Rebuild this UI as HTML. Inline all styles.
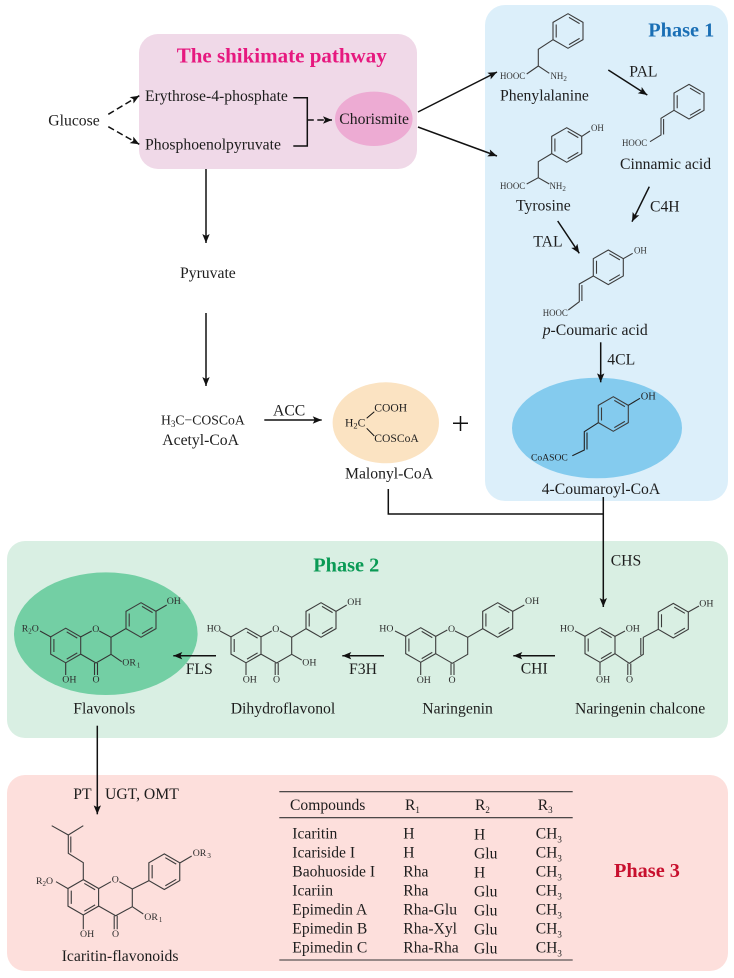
<!DOCTYPE html>
<html><head><meta charset="utf-8"><style>
html,body{margin:0;padding:0;background:#fff}
svg{display:block}
text{font-family:"Liberation Serif",serif;fill:#1d1d1d}
.l{font-size:15.7px}
.s{font-size:9.8px;fill:#2c2c2c}
.h{font-size:8.9px;fill:#333}
.m{font-size:11.6px}
.t{font-size:20.3px;font-weight:bold}
.b{fill:none;stroke:#3c3c3c;stroke-width:1.1}
.a{fill:none;stroke:#111;stroke-width:1.5}
.d{fill:none;stroke:#111;stroke-width:1.5;stroke-dasharray:6.5 3.5}
</style></head><body>
<svg width="734" height="978" viewBox="0 0 734 978" xmlns="http://www.w3.org/2000/svg">
<defs>
<marker id="a" markerUnits="userSpaceOnUse" markerWidth="10" markerHeight="8" refX="9" refY="4" orient="auto"><path d="M0,0.3 L9,4 L0,7.7 L2,4Z" fill="#111"/></marker>
<g id="r"><path class="b" d="M0,-17.3 L15,-8.65 L15,8.65 L0,17.3 L-15,8.65 L-15,-8.65Z"/><path class="b" d="M1,-13.6 L11.6,-7.4 M11.6,7.4 L1,13.6 M-11.8,-6.5 L-11.8,6.5"/></g>
</defs>
<rect width="734" height="978" fill="#fff"/>
<rect x="485" y="5" width="243" height="496" rx="20" fill="#dceffa"/>
<rect x="139" y="34" width="278" height="135" rx="19" fill="#f0d9e8"/>
<rect x="7" y="541" width="721" height="197" rx="18" fill="#d9efe3"/>
<rect x="7" y="775" width="721" height="196" rx="18" fill="#fddfdc"/>
<ellipse cx="373.8" cy="118.8" rx="38.8" ry="27.2" fill="#edabd3"/>
<ellipse cx="597" cy="428" rx="85" ry="50.3" fill="#84cbee"/>
<ellipse cx="385.8" cy="422.8" rx="53.2" ry="40.5" fill="#fbe3c2"/>
<ellipse cx="105.8" cy="633.7" rx="91.8" ry="61.3" fill="#73cfa4"/>

<text class="t" x="176.7" y="62.3" style="fill:#e6197f;font-size:21px">The shikimate pathway</text>
<text class="t" x="648.3" y="36.7" style="fill:#1a6fb5">Phase 1</text>
<text class="t" x="313.3" y="571.7" style="fill:#0a9a55">Phase 2</text>
<text class="t" x="614" y="877" style="fill:#c8102e">Phase 3</text>

<text class="l" x="48.3" y="125.7">Glucose</text>
<text class="l" x="145" y="101">Erythrose-4-phosphate</text>
<text class="l" x="145" y="149.3">Phosphoenolpyruvate</text>
<text class="l" x="339.3" y="124">Chorismite</text>
<path class="d" marker-end="url(#a)" d="M108.3,114.3 L139.3,95.7"/>
<path class="d" marker-end="url(#a)" d="M108.3,126.7 L139.3,144.3"/>
<path class="a" d="M293.3,97.7 H307.3 V146 H293.3"/>
<path class="d" marker-end="url(#a)" d="M307.3,120 H332"/>
<path class="a" marker-end="url(#a)" d="M418,112 L497,72"/>
<path class="a" marker-end="url(#a)" d="M418,127 L497,156"/>
<path class="a" marker-end="url(#a)" d="M206,169 V243"/>
<text class="l" x="180" y="278">Pyruvate</text>
<path class="a" marker-end="url(#a)" d="M206,313 V386"/>
<text x="161" y="424.5" style="font-size:13.7px">H<tspan dy="2.5" style="font-size:9px">3</tspan><tspan dy="-2.5">C−COSCoA</tspan></text>
<text class="l" x="162.3" y="445">Acetyl-CoA</text>
<text class="l" x="273" y="415.3">ACC</text>
<path class="a" marker-end="url(#a)" d="M264.3,420 H321.7"/>
<text class="m" x="374.3" y="411.7">COOH</text>
<text class="m" x="345" y="426.7">H<tspan dy="2" style="font-size:8.5px">2</tspan><tspan dy="-2">C</tspan></text>
<text class="m" x="374.3" y="442">COSCoA</text>
<path class="a" style="stroke-width:1" d="M366.7,418.3 L374.3,411.7 M366.7,428.3 L374.3,436"/>
<text class="l" x="345" y="478.3">Malonyl-CoA</text>
<path d="M453,423.3 H468 M460.5,416 V431" stroke="#111" stroke-width="1.5" fill="none"/>
<path class="a" d="M388.3,489 V514 H603.3"/>

<!-- Phenylalanine -->
<use href="#r" x="568" y="31"/>
<path class="b" d="M553,39.7 L538.3,49.3 V66 L549.3,73.3 M538.3,66 L526.7,74"/>
<text class="h" x="500" y="79">HOOC</text>
<text class="h" x="550.5" y="79">NH<tspan dy="2" style="font-size:7px">2</tspan></text>
<text class="l" x="500" y="100.7">Phenylalanine</text>
<text class="l" x="629.3" y="76.7">PAL</text>
<path class="a" marker-end="url(#a)" d="M608.3,70 L647.3,95"/>
<!-- Cinnamic -->
<use href="#r" x="689" y="101.7"/>
<path class="b" d="M674,110.3 L661,118.3 V135 L650,141.7 M663.6,119 V134.5"/>
<text class="h" x="622" y="146">HOOC</text>
<text class="l" x="620" y="169">Cinnamic acid</text>
<text class="l" x="650" y="211.7">C4H</text>
<path class="a" marker-end="url(#a)" d="M649.3,186.7 L632,221.7"/>
<!-- Tyrosine -->
<use href="#r" x="566.7" y="145"/>
<path class="b" d="M581.7,136.4 L590,131 M551.7,153.6 L538.3,161.7 V177.7 L549.3,184 M538.3,177.7 L526.7,184"/>
<text class="h" x="591" y="131">OH</text>
<text class="h" x="500" y="189">HOOC</text>
<text class="h" x="549.5" y="189">NH<tspan dy="2" style="font-size:7px">2</tspan></text>
<text class="l" x="516" y="210.7">Tyrosine</text>
<text class="l" x="533.3" y="246.7">TAL</text>
<path class="a" marker-end="url(#a)" d="M557.7,221 L579.3,253.3"/>
<!-- Coumaric -->
<use href="#r" x="608.3" y="267.3"/>
<path class="b" d="M623.3,258.7 L632.7,253.3 M593.3,276 L579.3,284 V301.7 L568.3,310 M581.9,285 V301"/>
<text class="h" x="634" y="253.5">OH</text>
<text class="h" x="542.7" y="316">HOOC</text>
<text class="l" x="542.7" y="335"><tspan font-style="italic">p</tspan>-Coumaric acid</text>
<text class="l" x="607.3" y="364.3">4CL</text>
<path class="a" marker-end="url(#a)" d="M600.7,342.3 V382.3"/>
<!-- Coumaroyl -->
<use href="#r" x="613.3" y="414"/>
<path class="b" style="stroke:#222" d="M628.3,405.3 L640,398.3 M598.3,422.7 L584.3,431.7 V450 L572.3,455.7 M587,432.5 V449.5"/>
<text class="s" x="640.7" y="399.5" style="font-size:10.4px;fill:#222">OH</text>
<text x="531" y="460.7" style="font-size:9.6px">CoASOC</text>
<text class="l" x="541.7" y="494">4-Coumaroyl-CoA</text>

<path class="a" marker-end="url(#a)" d="M603.3,497 V607"/>
<text class="l" x="610.7" y="565.3">CHS</text>

<!-- Chalcone -->
<use href="#r" x="600" y="645"/>
<use href="#r" x="673.3" y="620.7"/>
<path class="b" d="M585,636.4 L575,631 M615,636.4 L625,631 M600,662.3 V675 M615,653.7 L629.3,663.3 L643.3,654.3 V637.3 L658.3,629.3 M640.8,655 V638 M627.8,663.5 V675 M630.8,663.5 V675 M688.3,612 L699,606"/>
<text class="s" x="560" y="631.5">HO</text>
<text class="s" x="625.7" y="631.5">OH</text>
<text class="s" x="596" y="682.3">OH</text>
<text class="s" x="626" y="682.3">O</text>
<text class="s" x="699.3" y="606.5">OH</text>
<text class="l" x="575" y="713.3">Naringenin chalcone</text>
<path class="a" marker-end="url(#a)" d="M555,655.7 H513.3"/>
<text class="l" x="520.7" y="673.3">CHI</text>

<!-- Naringenin -->
<use href="#r" x="420.7" y="645"/>
<use href="#r" x="497.7" y="620"/>
<path class="b" d="M405.7,636.4 L395,631 M435.7,636.4 L447.3,630 M455,631 L467.7,637.3 V654.3 L452.3,663.3 L435.7,653.7 M451,663.3 V675 M454,663.3 V675 M420.7,662.3 V675 M467.7,637.3 L482.7,628.7 M512.7,611.4 L524.3,605"/>
<text class="s" x="379.3" y="631.5">HO</text>
<text class="s" x="448" y="632">O</text>
<text class="s" x="448.5" y="683">O</text>
<text class="s" x="416.7" y="683">OH</text>
<text class="s" x="525" y="604">OH</text>
<text class="l" x="422.3" y="713.3">Naringenin</text>
<path class="a" marker-end="url(#a)" d="M384,655.7 H342.3"/>
<text class="l" x="349" y="674">F3H</text>

<!-- Dihydroflavonol -->
<use href="#r" x="246" y="645.5"/>
<use href="#r" x="321" y="620"/>
<path class="b" d="M231,636.9 L220,631 M261,636.9 L271.7,631 M280,631 L291.7,637.3 V654.3 L276.7,663 L261,654.1 M275.2,663 V675 M278.2,663 V675 M246,662.8 V675 M291.7,654.3 L301.7,660 M291.7,637.3 L306,628.7 M336,611.4 L346.7,605"/>
<text class="s" x="206.7" y="631.5">HO</text>
<text class="s" x="272.2" y="632">O</text>
<text class="s" x="273" y="682.5">O</text>
<text class="s" x="242.7" y="682.3">OH</text>
<text class="s" x="302.3" y="665.7">OH</text>
<text class="s" x="347.3" y="605">OH</text>
<text class="l" x="230.7" y="713.3">Dihydroflavonol</text>
<path class="a" marker-end="url(#a)" d="M216,655.7 H173.3"/>
<text class="l" x="185.7" y="674">FLS</text>

<!-- Flavonols -->
<use href="#r" x="65.7" y="645.5"/>
<use href="#r" x="141" y="620"/>
<path class="b" style="stroke:#333" d="M50.7,636.9 L40,631 M80.7,636.9 L91.7,631 M99.3,631 L111,637.3 V654.3 L96,663 L80.7,654.1 M94.5,663 V675 M97.5,663 V675 M65.7,662.8 V675 M111,654.3 L121.7,661.7 M111,637.3 L125.7,628.7 M155.7,611.4 L166.7,605"/>
<text class="s" x="21.7" y="631.7">R<tspan dy="2" style="font-size:7px">2</tspan><tspan dy="-2">O</tspan></text>
<text class="s" x="92.2" y="632">O</text>
<text class="s" x="92.5" y="682.5">O</text>
<text class="s" x="62.3" y="682.3">OH</text>
<text class="s" x="122.3" y="665.7">OR<tspan dx="1" dy="2" style="font-size:7px">1</tspan></text>
<text class="s" x="166.7" y="604">OH</text>
<text class="l" x="73.3" y="713.3">Flavonols</text>

<path class="a" marker-end="url(#a)" d="M97.3,725.7 V814.3"/>
<text class="l" x="73.3" y="799">PT</text>
<text class="l" x="105" y="799">UGT, OMT</text>

<!-- Icaritin -->
<use href="#r" transform="translate(83.3,897.3) scale(1.02)"/>
<use href="#r" transform="translate(164.3,871.7) scale(1.03)"/>
<path class="b" d="M83.3,880 V862.7 L68.3,853.3 V835 L51.7,825.7 M68.3,835 L83.3,825.7 M70.8,852.5 V836.5 M68,888.6 L56,881.7 M98.6,888.6 L111,881.7 M119.3,881.7 L132.3,889 V906.7 L115.7,915.7 L98.6,906 M114.2,915.7 V929.3 M117.2,915.7 V929.3 M83.3,915 V929.3 M132.3,906.7 L143.3,914 M132.3,889 L148.8,880.8 M179.8,863 L191.7,856"/>
<text class="s" x="36" y="884">R<tspan dy="2" style="font-size:7px">2</tspan><tspan dy="-2">O</tspan></text>
<text class="s" x="111.8" y="882.7">O</text>
<text class="s" x="112" y="937">O</text>
<text class="s" x="80" y="937">OH</text>
<text class="s" x="144.3" y="920">OR<tspan dx="1" dy="2" style="font-size:7px">1</tspan></text>
<text class="s" x="192.7" y="856">OR<tspan dx="1" dy="2" style="font-size:7px">3</tspan></text>
<text class="l" x="61.7" y="961">Icaritin-flavonoids</text>

<!-- Table -->
<path d="M279.3,791.7 H572.7 M279.3,817.7 H572.7 M279.3,960 H572.7" stroke="#333" stroke-width="1.1" fill="none"/>
<g style="font-size:15.6px">
<text x="290" y="810">Compounds</text>
<text x="405" y="810">R<tspan dy="3" style="font-size:9px">1</tspan></text>
<text x="475" y="810">R<tspan dy="3" style="font-size:9px">2</tspan></text>
<text x="537.7" y="810">R<tspan dy="3" style="font-size:9px">3</tspan></text>
<text x="292.3" y="838.3">Icaritin</text><text x="403.3" y="838.3">H</text><text x="474" y="839.3">H</text><text x="535.7" y="838.3">CH<tspan dy="4" style="font-size:9px">3</tspan></text>
<text x="292.3" y="857.3">Icariside I</text><text x="403.3" y="857.3">H</text><text x="474" y="858.3">Glu</text><text x="535.7" y="857.3">CH<tspan dy="4" style="font-size:9px">3</tspan></text>
<text x="292.3" y="876.7">Baohuoside I</text><text x="403.3" y="876.7">Rha</text><text x="474" y="877.7">H</text><text x="535.7" y="876.7">CH<tspan dy="4" style="font-size:9px">3</tspan></text>
<text x="292.3" y="895.3">Icariin</text><text x="403.3" y="895.3">Rha</text><text x="474" y="896.3">Glu</text><text x="535.7" y="895.3">CH<tspan dy="4" style="font-size:9px">3</tspan></text>
<text x="292.3" y="914.3">Epimedin A</text><text x="403.3" y="914.3">Rha-Glu</text><text x="474" y="915.3">Glu</text><text x="535.7" y="914.3">CH<tspan dy="4" style="font-size:9px">3</tspan></text>
<text x="292.3" y="933.3">Epimedin B</text><text x="403.3" y="933.3">Rha-Xyl</text><text x="474" y="934.3">Glu</text><text x="535.7" y="933.3">CH<tspan dy="4" style="font-size:9px">3</tspan></text>
<text x="292.3" y="952.3">Epimedin C</text><text x="403.3" y="952.3">Rha-Rha</text><text x="474" y="953.3">Glu</text><text x="535.7" y="952.3">CH<tspan dy="4" style="font-size:9px">3</tspan></text>
</g>
</svg>
</body></html>
